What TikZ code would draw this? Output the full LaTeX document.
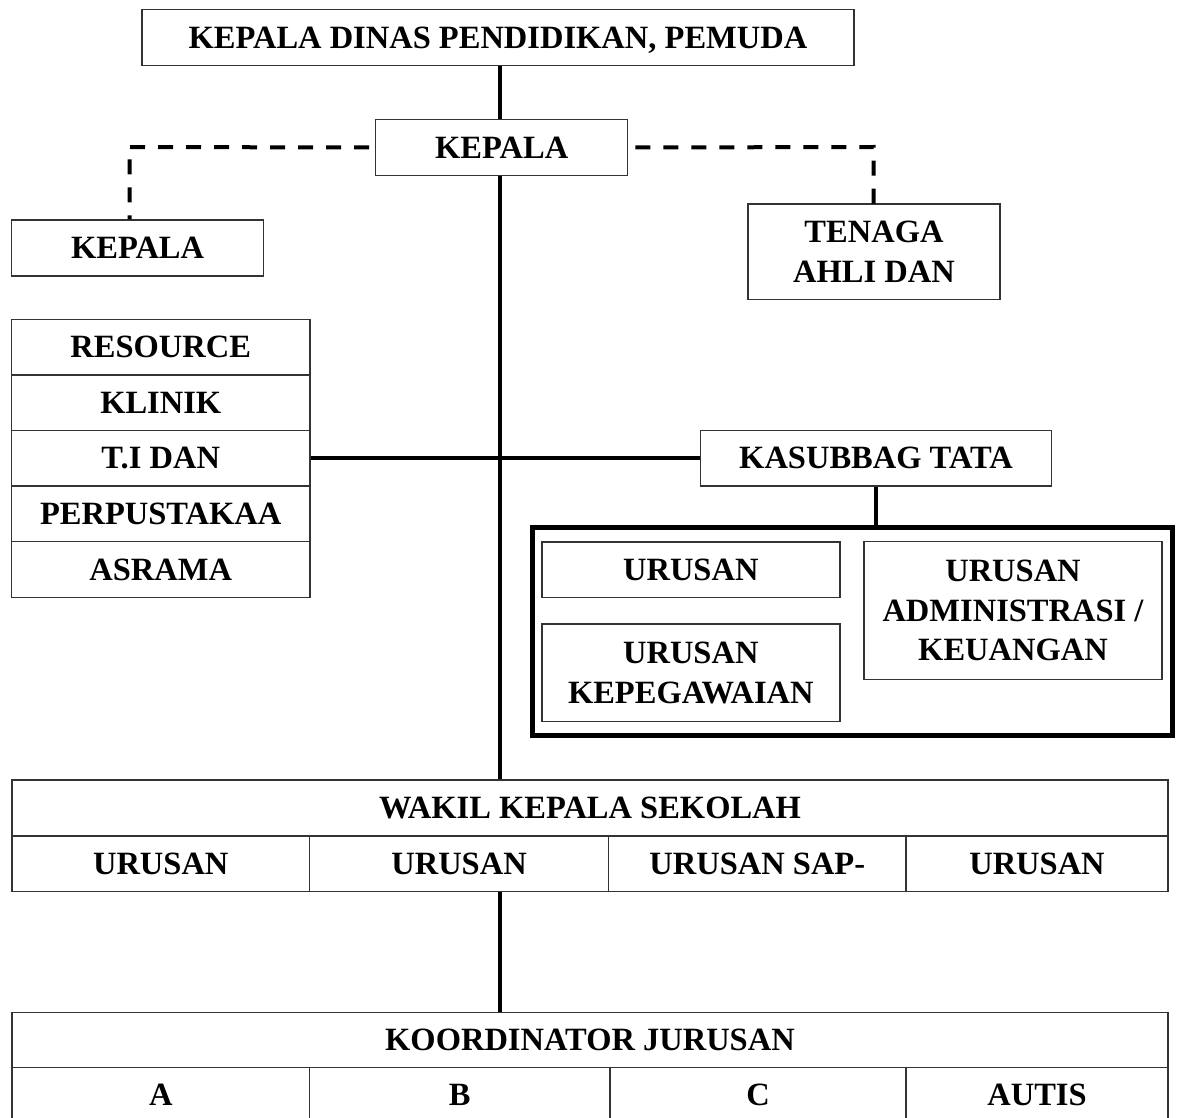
\documentclass[tikz,border=0pt]{standalone}
\usepackage{fontspec}
\setmainfont{Liberation Serif}
\begin{document}
\begin{tikzpicture}[x=1pt,y=-1pt,
  box/.style={draw=black!80, line width=1.4pt, inner sep=0pt, align=center,
    font=\bfseries\fontsize{32.5}{39.5}\selectfont},
  conn/.style={line width=4pt, black},
  dashline/.style={line width=4pt, black, dash pattern=on 15pt off 13pt},
  bigbox/.style={draw=black, line width=5pt}]
\useasboundingbox (0,0) rectangle (1178,1118);
\clip (0,0) rectangle (1178,1118);
% top
\node[box, minimum width=712, minimum height=56.4, text depth=0pt] (top) at (498,37.5) {KEPALA DINAS PENDIDIKAN, PEMUDA};
\node[box, minimum width=252, minimum height=56.4] (kepala) at (501.7,147.5) {KEPALA};
\node[box, minimum width=252, minimum height=56] (lkepala) at (137.6,248) {KEPALA};
\node[box, minimum width=252, minimum height=95.7] (tenaga) at (874,251.9) {TENAGA\\AHLI DAN};
% left stack
\node[box, minimum width=298.5, minimum height=55.6] (res) at (160.75,347.1) {RESOURCE};
\node[box, minimum width=298.5, minimum height=55.6] (klinik) at (160.75,402.7) {KLINIK};
\node[box, minimum width=298.5, minimum height=55.6] (tid) at (160.75,458.3) {T.I DAN};
\node[box, minimum width=298.5, minimum height=55.6] (perp) at (160.75,513.9) {PERPUSTAKAA};
\node[box, minimum width=298.5, minimum height=55.6] (asr) at (160.75,569.5) {ASRAMA};
% kasubbag
\node[box, minimum width=351.3, minimum height=55.7] (kasub) at (876,458.3) {KASUBBAG TATA};
\node[bigbox, minimum width=640, minimum height=208.7, inner sep=0pt] (big) at (852.5,631.6) {};
\node[box, minimum width=298, minimum height=55.3] (urusan) at (690.8,569.7) {URUSAN};
\node[box, minimum width=298, minimum height=97.7] (kepeg) at (690.8,672.8) {URUSAN\\KEPEGAWAIAN};
\node[box, minimum width=298, minimum height=137.6] (admin) at (1013,610.5) {URUSAN\\ADMINISTRASI /\\KEUANGAN};
% wakil table
\node[box, minimum width=1156, minimum height=56] (wakil) at (590,808) {WAKIL KEPALA SEKOLAH};
\node[box, minimum width=297.5, minimum height=55.7] (wu1) at (160.75,863.85) {URUSAN};
\node[box, minimum width=299.1, minimum height=55.7] (wu2) at (459.05,863.85) {URUSAN};
\node[box, minimum width=297.4, minimum height=55.7] (wu3) at (757.3,863.85) {URUSAN SAP-};
\node[box, minimum width=262, minimum height=55.7] (wu4) at (1037,863.85) {URUSAN};
% koordinator table
\node[box, minimum width=1156, minimum height=55] (koord) at (590,1039.8) {KOORDINATOR JURUSAN};
\node[box, minimum width=297.5, minimum height=55] (ka) at (160.75,1094.8) {A};
\node[box, minimum width=300.5, minimum height=55] (kb) at (459.75,1094.8) {B};
\node[box, minimum width=296, minimum height=55] (kc) at (758,1094.8) {C};
\node[box, minimum width=262, minimum height=55] (kd) at (1037,1094.8) {AUTIS};
% connectors
\coordinate (trunk) at (499.5,0);
\draw[conn] (top.south -| trunk) -- (kepala.north -| trunk);
\draw[conn] (kepala.south -| trunk) -- (wakil.north -| trunk);
\draw[conn] (wu2.south -| trunk) -- (koord.north -| trunk);
\draw[conn] (tid.east) -- (kasub.west);
\draw[conn] (kasub.south) -- (big.north -| kasub.south);
\coordinate (dl) at (129.5,147);
\draw[dashline] ([xshift=-6]kepala.west) -- (dl) -- (dl |- lkepala.north);
\coordinate (dr) at (873.7,147);
\draw[dashline] ([xshift=7]kepala.east) -- (dr) -- ([yshift=-2]dr |- tenaga.north);
\end{tikzpicture}
\end{document}
